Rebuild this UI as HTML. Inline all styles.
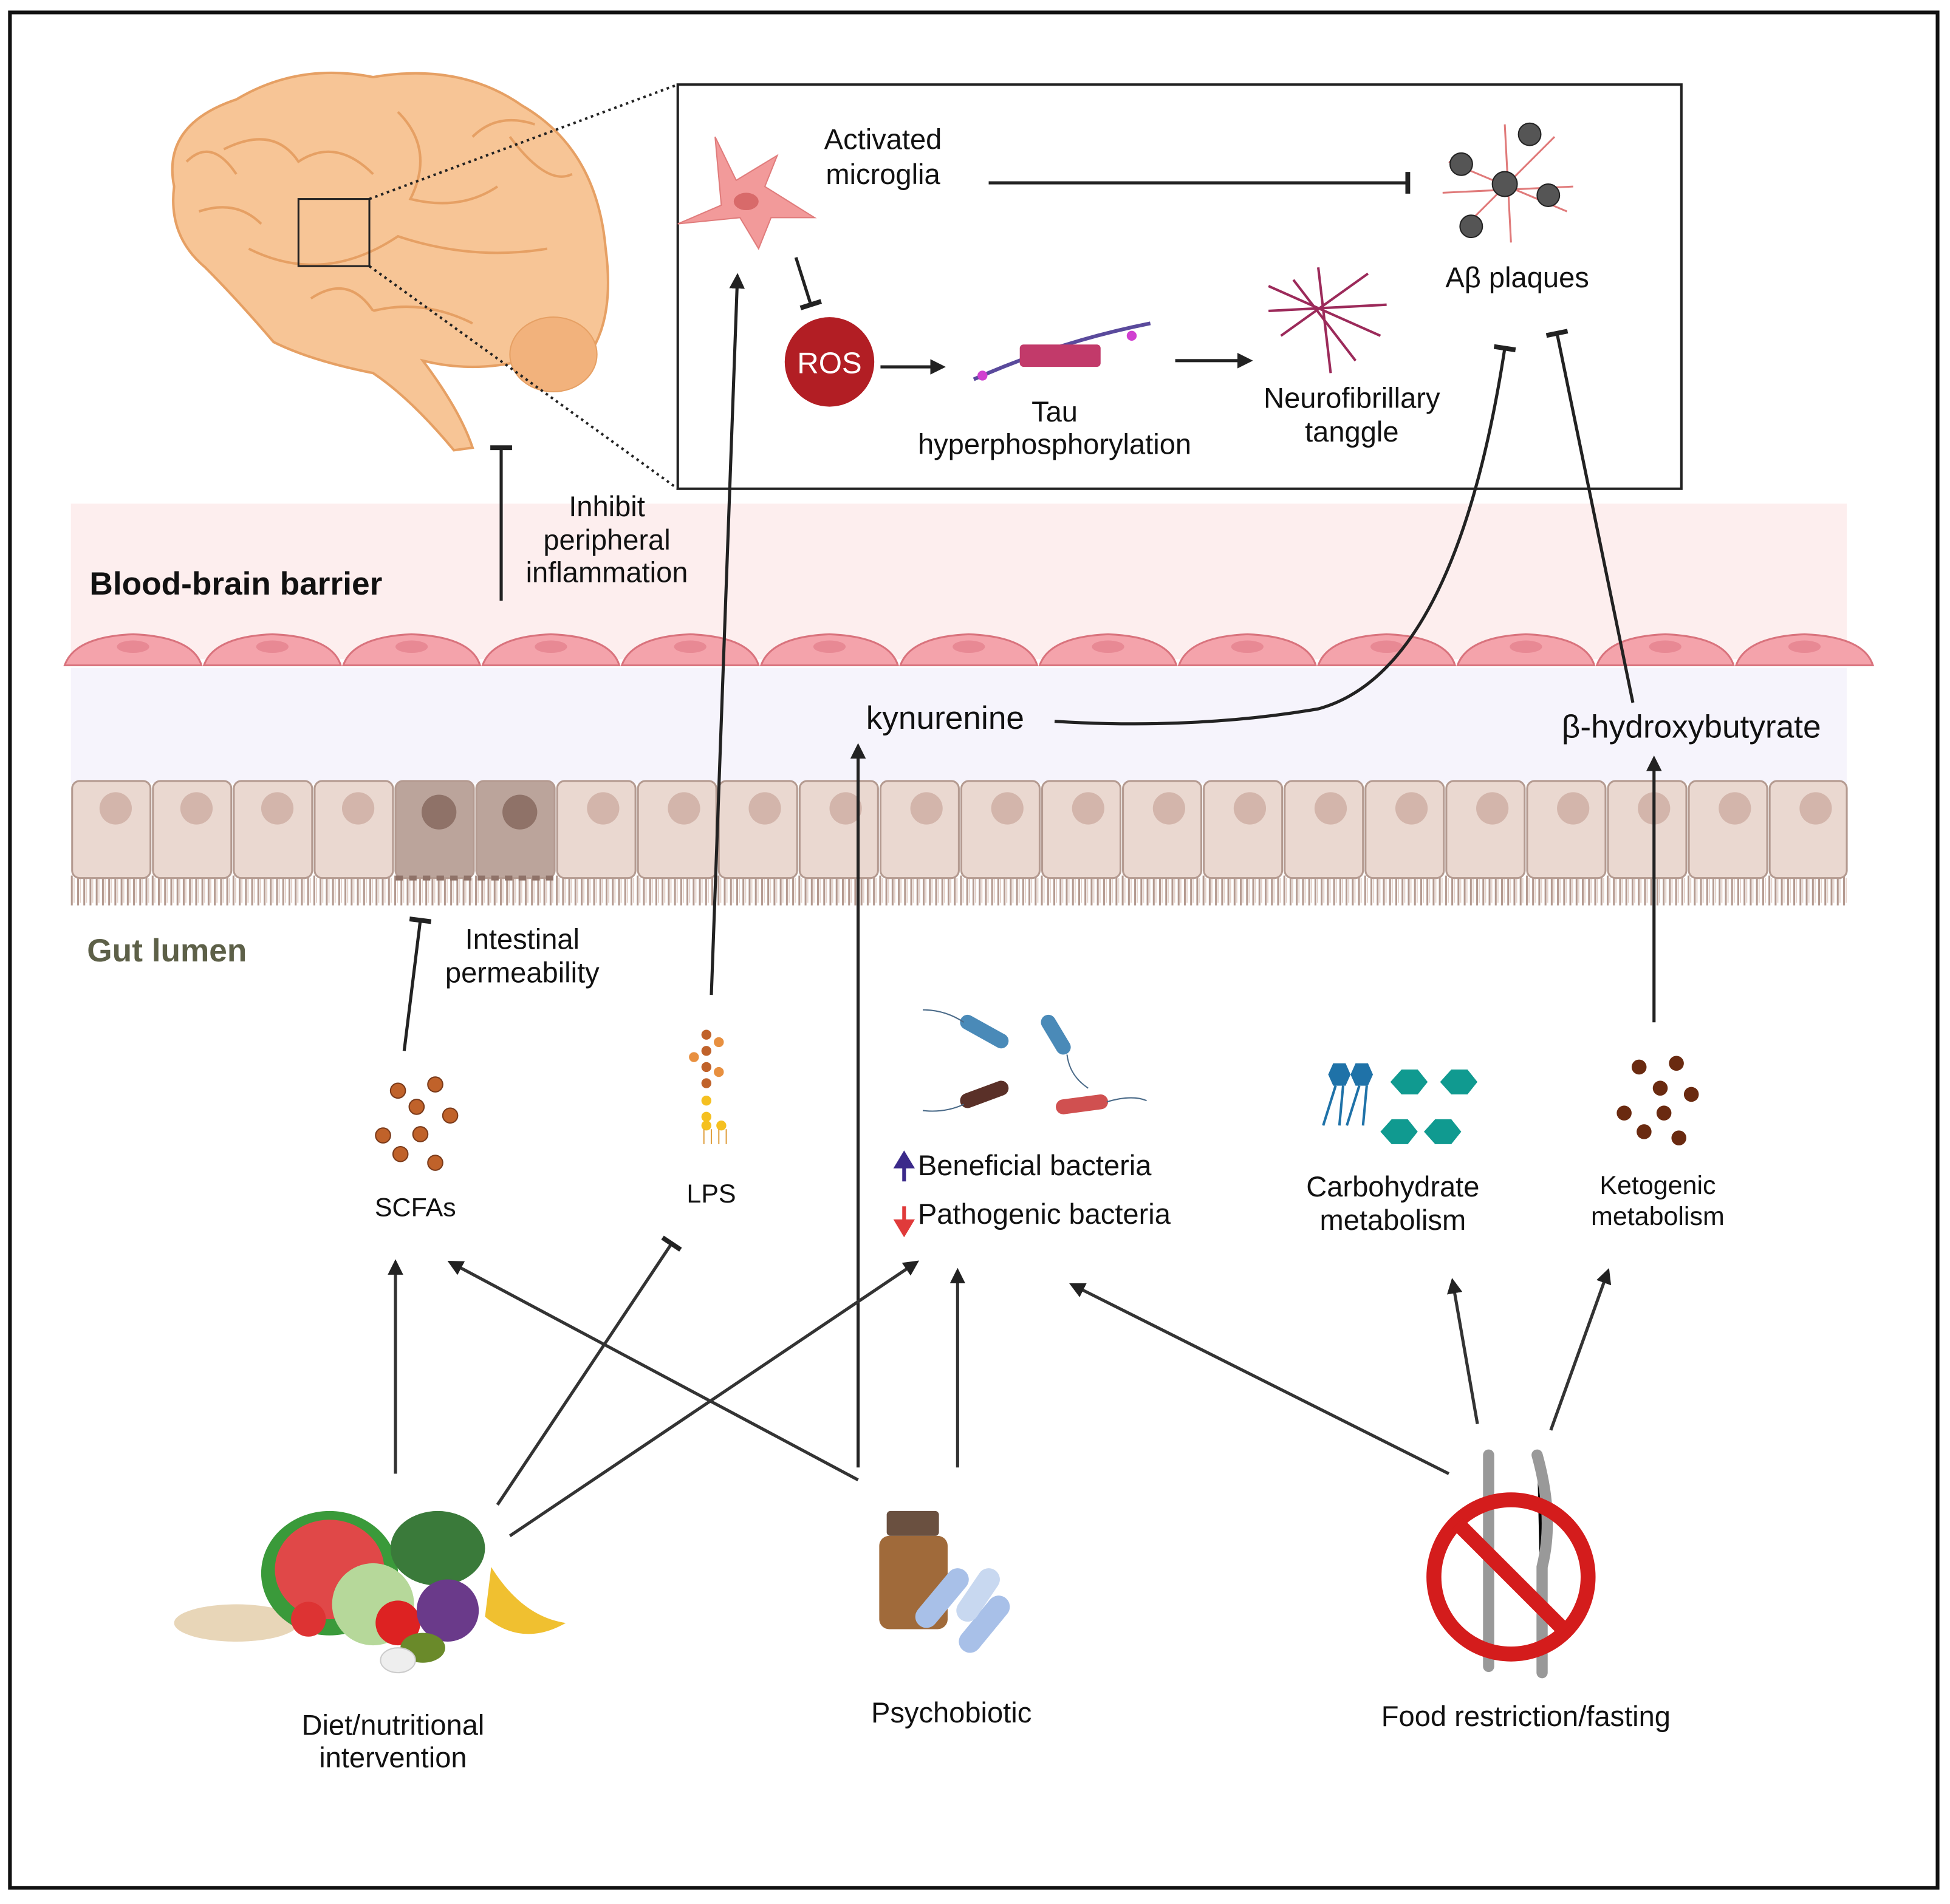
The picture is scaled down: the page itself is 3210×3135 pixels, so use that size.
<!DOCTYPE html>
<html><head><meta charset="utf-8"><style>
html,body{margin:0;padding:0;background:#fff}
svg{display:block}
text{font-family:"Liberation Sans",sans-serif;fill:#111}
</style></head><body>
<svg width="3210" height="3135" viewBox="0 0 1568 1531" preserveAspectRatio="none" xmlns="http://www.w3.org/2000/svg">
<defs>
<marker id="ar" viewBox="0 0 10 10" refX="8" refY="5" markerWidth="5" markerHeight="5" orient="auto"><path d="M0,0 L10,5 L0,10 z" fill="#222"/></marker>
<marker id="tb" viewBox="0 0 10 10" refX="5" refY="5" markerWidth="7" markerHeight="7" orient="auto"><path d="M5,0 L5,10" stroke="#222" stroke-width="2.2"/></marker>
</defs>
<rect x="8" y="10" width="1550" height="1508" fill="#fff" stroke="#111" stroke-width="3"/>
<rect x="57" y="405" width="1428" height="125" fill="#fdeeee"/>
<rect x="57" y="537" width="1428" height="93" fill="#f6f4fc"/>
<g fill="#f4a3ab" stroke="#d9737d" stroke-width="1.5">
<path d="M52,535 Q60,512 107,510 Q155,512 162,535 Z"/><path d="M164,535 Q172,512 219,510 Q267,512 274,535 Z"/><path d="M276,535 Q284,512 331,510 Q379,512 386,535 Z"/><path d="M388,535 Q396,512 443,510 Q491,512 498,535 Z"/><path d="M500,535 Q508,512 555,510 Q603,512 610,535 Z"/><path d="M612,535 Q620,512 667,510 Q715,512 722,535 Z"/><path d="M724,535 Q732,512 779,510 Q827,512 834,535 Z"/><path d="M836,535 Q844,512 891,510 Q939,512 946,535 Z"/><path d="M948,535 Q956,512 1003,510 Q1051,512 1058,535 Z"/><path d="M1060,535 Q1068,512 1115,510 Q1163,512 1170,535 Z"/><path d="M1172,535 Q1180,512 1227,510 Q1275,512 1282,535 Z"/><path d="M1284,535 Q1292,512 1339,510 Q1387,512 1394,535 Z"/><path d="M1396,535 Q1404,512 1451,510 Q1499,512 1506,535 Z"/>
</g>
<g fill="#e88994"><ellipse cx="107" cy="520" rx="13" ry="5"/><ellipse cx="219" cy="520" rx="13" ry="5"/><ellipse cx="331" cy="520" rx="13" ry="5"/><ellipse cx="443" cy="520" rx="13" ry="5"/><ellipse cx="555" cy="520" rx="13" ry="5"/><ellipse cx="667" cy="520" rx="13" ry="5"/><ellipse cx="779" cy="520" rx="13" ry="5"/><ellipse cx="891" cy="520" rx="13" ry="5"/><ellipse cx="1003" cy="520" rx="13" ry="5"/><ellipse cx="1115" cy="520" rx="13" ry="5"/><ellipse cx="1227" cy="520" rx="13" ry="5"/><ellipse cx="1339" cy="520" rx="13" ry="5"/><ellipse cx="1451" cy="520" rx="13" ry="5"/></g>
<!-- microvilli -->
<path d="M57,716 L1485,716" stroke="#b49a90" stroke-width="24" stroke-dasharray="1.5,3.5"/>
<path d="M57,716 L1485,716" stroke="#e6d4cc" stroke-width="20" stroke-dasharray="1,4" stroke-dashoffset="-2"/>
<g stroke="#b49a90" stroke-width="1.5">
<g fill="#ead8d0">
<rect x="58" y="628" width="63" height="78" rx="6"/><rect x="123" y="628" width="63" height="78" rx="6"/><rect x="188" y="628" width="63" height="78" rx="6"/><rect x="253" y="628" width="63" height="78" rx="6"/>
<rect x="318" y="628" width="63" height="78" rx="6" fill="#bba49b"/><rect x="383" y="628" width="63" height="78" rx="6" fill="#bba49b"/>
<rect x="448" y="628" width="63" height="78" rx="6"/><rect x="513" y="628" width="63" height="78" rx="6"/><rect x="578" y="628" width="63" height="78" rx="6"/><rect x="643" y="628" width="63" height="78" rx="6"/><rect x="708" y="628" width="63" height="78" rx="6"/><rect x="773" y="628" width="63" height="78" rx="6"/><rect x="838" y="628" width="63" height="78" rx="6"/><rect x="903" y="628" width="63" height="78" rx="6"/><rect x="968" y="628" width="63" height="78" rx="6"/><rect x="1033" y="628" width="63" height="78" rx="6"/><rect x="1098" y="628" width="63" height="78" rx="6"/><rect x="1163" y="628" width="63" height="78" rx="6"/><rect x="1228" y="628" width="63" height="78" rx="6"/><rect x="1293" y="628" width="63" height="78" rx="6"/><rect x="1358" y="628" width="63" height="78" rx="6"/><rect x="1423" y="628" width="62" height="78" rx="6"/>
</g>
</g>
<g fill="#d3b5ab">
<circle cx="93" cy="650" r="13"/><circle cx="158" cy="650" r="13"/><circle cx="223" cy="650" r="13"/><circle cx="288" cy="650" r="13"/><circle cx="353" cy="653" r="14" fill="#8f7268"/><circle cx="418" cy="653" r="14" fill="#8f7268"/><circle cx="485" cy="650" r="13"/><circle cx="550" cy="650" r="13"/><circle cx="615" cy="650" r="13"/><circle cx="680" cy="650" r="13"/><circle cx="745" cy="650" r="13"/><circle cx="810" cy="650" r="13"/><circle cx="875" cy="650" r="13"/><circle cx="940" cy="650" r="13"/><circle cx="1005" cy="650" r="13"/><circle cx="1070" cy="650" r="13"/><circle cx="1135" cy="650" r="13"/><circle cx="1200" cy="650" r="13"/><circle cx="1265" cy="650" r="13"/><circle cx="1330" cy="650" r="13"/><circle cx="1395" cy="650" r="13"/><circle cx="1460" cy="650" r="13"/>
</g>
<path d="M318,706 L446,706" stroke="#8f7268" stroke-width="4" stroke-dasharray="6,5"/>
<!-- brain -->
<path d="M140,150 Q130,100 190,80 Q240,50 300,62 Q370,50 420,85 Q480,120 487,200 Q495,260 470,290 Q440,300 420,290 Q380,300 340,290 Q370,330 380,360 L365,362 Q330,320 300,300 Q250,290 220,275 Q190,240 165,215 Q135,190 140,150 Z" fill="#f7c596" stroke="#e6a064" stroke-width="2"/>
<ellipse cx="445" cy="285" rx="35" ry="30" fill="#f2b27c" stroke="#e6a064"/>
<g fill="none" stroke="#e6a064" stroke-width="2"><path d="M180,120 Q220,100 240,130 Q270,110 300,140"/><path d="M320,90 Q350,120 330,160 Q370,170 400,150"/><path d="M200,200 Q260,230 320,190 Q380,210 440,200"/><path d="M300,250 Q340,240 380,260"/><path d="M410,110 Q440,150 460,140"/><path d="M160,170 Q190,160 210,180"/><path d="M150,130 Q170,110 190,140"/><path d="M250,240 Q280,220 300,250"/><path d="M380,110 Q400,90 430,100"/></g>
<rect x="240" y="160" width="57" height="54" fill="none" stroke="#222" stroke-width="1.5"/>
<path d="M297,160 L545,68 M297,214 L545,393" stroke="#222" stroke-width="2" stroke-dasharray="2,3"/>
<rect x="545" y="68" width="807" height="325" fill="#fff" stroke="#222" stroke-width="2"/>
<path d="M545,180 L580,165 L575,110 L592,145 L625,125 L615,150 L655,175 L620,175 L610,200 L595,175 Z" fill="#f29a9a" stroke="#e07c7c"/>
<ellipse cx="600" cy="162" rx="10" ry="7" fill="#d86a6a"/>
<text x="710" y="120" font-size="23" text-anchor="middle">Activated</text>
<text x="710" y="148" font-size="23" text-anchor="middle">microglia</text>
<line x1="795" y1="147" x2="1132" y2="147" stroke="#222" stroke-width="2.5" marker-end="url(#tb)"/>
<line x1="640" y1="207" x2="652" y2="245" stroke="#222" stroke-width="2.5" marker-end="url(#tb)"/>
<circle cx="667" cy="291" r="36" fill="#b21e24"/>
<text x="667" y="300" font-size="24" text-anchor="middle" style="fill:#fff">ROS</text>
<line x1="708" y1="295" x2="758" y2="295" stroke="#222" stroke-width="2.5" marker-end="url(#ar)"/>
<path d="M783,305 Q850,275 925,260" stroke="#5a4a9c" stroke-width="3" fill="none"/>
<rect x="820" y="277" width="65" height="18" fill="#c23a6a" rx="3"/>
<circle cx="790" cy="302" r="4" fill="#d040d0"/><circle cx="910" cy="270" r="4" fill="#d040d0"/>
<text x="848" y="339" font-size="23" text-anchor="middle">Tau</text>
<text x="848" y="365" font-size="23" text-anchor="middle">hyperphosphorylation</text>
<line x1="945" y1="290" x2="1005" y2="290" stroke="#222" stroke-width="2.5" marker-end="url(#ar)"/>
<g stroke="#9c2a5a" stroke-width="2" fill="none"><path d="M1020,230 L1110,270 M1030,270 L1100,220 M1060,215 L1070,300 M1020,250 L1115,245 M1040,225 L1090,290"/></g>
<text x="1087" y="328" font-size="23" text-anchor="middle">Neurofibrillary</text>
<text x="1087" y="355" font-size="23" text-anchor="middle">tanggle</text>
<g stroke="#e07a7a" stroke-width="1.5" fill="none"><path d="M1165,130 L1260,170 M1180,180 L1250,110 M1210,100 L1215,195 M1160,155 L1265,150"/></g>
<g fill="#555" stroke="#222"><circle cx="1175" cy="132" r="9"/><circle cx="1230" cy="108" r="9"/><circle cx="1210" cy="148" r="10"/><circle cx="1245" cy="157" r="9"/><circle cx="1183" cy="182" r="9"/></g>
<text x="1220" y="231" font-size="23" text-anchor="middle">Aβ plaques</text>
<text x="72" y="478" font-size="26" font-weight="bold">Blood-brain barrier</text>
<line x1="403" y1="483" x2="403" y2="360" stroke="#222" stroke-width="2.5" marker-end="url(#tb)"/>
<text x="488" y="415" font-size="23" text-anchor="middle">Inhibit</text>
<text x="488" y="442" font-size="23" text-anchor="middle">peripheral</text>
<text x="488" y="468" font-size="23" text-anchor="middle">inflammation</text>
<text x="760" y="586" font-size="26" text-anchor="middle">kynurenine</text>
<path d="M848,580 Q960,587 1060,570 Q1170,540 1210,280" stroke="#222" stroke-width="2.5" fill="none" marker-end="url(#tb)"/>
<text x="1360" y="593" font-size="26" text-anchor="middle">β-hydroxybutyrate</text>
<line x1="1313" y1="565" x2="1252" y2="268" stroke="#222" stroke-width="2.5" marker-end="url(#tb)"/>
<text x="70" y="773" font-size="26" font-weight="bold" style="fill:#5d6048">Gut lumen</text>
<line x1="572" y1="800" x2="593" y2="222" stroke="#222" stroke-width="2.5" marker-end="url(#ar)"/>
<line x1="690" y1="1180" x2="690" y2="600" stroke="#222" stroke-width="2.5" marker-end="url(#ar)"/>
<line x1="1330" y1="822" x2="1330" y2="610" stroke="#222" stroke-width="2.5" marker-end="url(#ar)"/>
<line x1="325" y1="845" x2="338" y2="740" stroke="#222" stroke-width="2.5" marker-end="url(#tb)"/>
<text x="420" y="763" font-size="23" text-anchor="middle">Intestinal</text>
<text x="420" y="790" font-size="23" text-anchor="middle">permeability</text>
<g fill="#c0622a" stroke="#7a3a1a"><circle cx="320" cy="877" r="6"/><circle cx="350" cy="872" r="6"/><circle cx="335" cy="890" r="6"/><circle cx="362" cy="897" r="6"/><circle cx="308" cy="913" r="6"/><circle cx="338" cy="912" r="6"/><circle cx="322" cy="928" r="6"/><circle cx="350" cy="935" r="6"/></g>
<text x="334" y="978" font-size="21" text-anchor="middle">SCFAs</text>
<g fill="#c0622a"><circle cx="568" cy="832" r="4"/><circle cx="568" cy="845" r="4"/><circle cx="568" cy="858" r="4"/><circle cx="568" cy="871" r="4"/><circle cx="578" cy="838" r="4" fill="#e89040"/><circle cx="558" cy="850" r="4" fill="#e89040"/><circle cx="578" cy="862" r="4" fill="#e89040"/></g>
<g fill="#f5c020"><circle cx="568" cy="885" r="4"/><circle cx="568" cy="898" r="4"/><circle cx="568" cy="905" r="4"/><circle cx="580" cy="905" r="4"/></g>
<path d="M566,908 l0,12 M572,908 l0,12 M578,908 l0,12 M584,908 l0,12" stroke="#e0a040"/>
<text x="572" y="967" font-size="21" text-anchor="middle">LPS</text>
<g stroke-linecap="round"><line x1="778" y1="822" x2="805" y2="837" stroke="#4a8ab8" stroke-width="12"/><line x1="843" y1="822" x2="855" y2="842" stroke="#4a8ab8" stroke-width="12"/><line x1="778" y1="885" x2="805" y2="875" stroke="#5a3028" stroke-width="12"/><line x1="855" y1="890" x2="885" y2="886" stroke="#d05050" stroke-width="12"/></g>
<path d="M742,812 Q760,812 775,822 M858,848 Q860,865 875,875 M775,888 Q760,895 742,893 M890,886 Q910,880 922,885" stroke="#4a6a88" fill="none"/>
<path d="M727,950 L727,932 M721,938 L727,928 L733,938 Z" stroke="#3b2a8a" stroke-width="3" fill="#3b2a8a"/>
<text x="738" y="945" font-size="23">Beneficial bacteria</text>
<path d="M727,970 L727,988 M721,982 L727,992 L733,982 Z" stroke="#e03a3a" stroke-width="3" fill="#e03a3a"/>
<text x="738" y="984" font-size="23">Pathogenic bacteria</text>
<g fill="#1f72a8"><polygon points="1072,855 1082,855 1086,864 1082,873 1072,873 1068,864"/><polygon points="1090,855 1100,855 1104,864 1100,873 1090,873 1086,864"/></g>
<path d="M1074,873 L1064,905 M1080,873 L1077,905 M1093,873 L1083,905 M1099,873 L1096,905" stroke="#1f72a8" stroke-width="2"/>
<g fill="#109a90"><polygon points="1118,870 1127,860 1140,860 1148,870 1140,880 1127,880"/><polygon points="1158,870 1167,860 1180,860 1188,870 1180,880 1167,880"/><polygon points="1110,910 1119,900 1132,900 1140,910 1132,920 1119,920"/><polygon points="1145,910 1154,900 1167,900 1175,910 1167,920 1154,920"/></g>
<text x="1120" y="962" font-size="23" text-anchor="middle">Carbohydrate</text>
<text x="1120" y="989" font-size="23" text-anchor="middle">metabolism</text>
<g fill="#6a2a10"><circle cx="1318" cy="858" r="6"/><circle cx="1348" cy="855" r="6"/><circle cx="1335" cy="875" r="6"/><circle cx="1360" cy="880" r="6"/><circle cx="1306" cy="895" r="6"/><circle cx="1338" cy="895" r="6"/><circle cx="1322" cy="910" r="6"/><circle cx="1350" cy="915" r="6"/></g>
<text x="1333" y="960" font-size="21" text-anchor="middle">Ketogenic</text>
<text x="1333" y="985" font-size="21" text-anchor="middle">metabolism</text>
<g stroke-width="2.5" fill="none" stroke="#333">
<line x1="318" y1="1185" x2="318" y2="1015" marker-end="url(#ar)"/>
<line x1="690" y1="1190" x2="362" y2="1015" marker-end="url(#ar)"/>
<line x1="400" y1="1210" x2="540" y2="1000" marker-end="url(#tb)"/>
<line x1="410" y1="1235" x2="737" y2="1015" marker-end="url(#ar)"/>
<line x1="770" y1="1180" x2="770" y2="1022" marker-end="url(#ar)"/>
<line x1="1165" y1="1185" x2="862" y2="1033" marker-end="url(#ar)"/>
<line x1="1188" y1="1145" x2="1168" y2="1030" marker-end="url(#ar)"/>
<line x1="1247" y1="1150" x2="1293" y2="1022" marker-end="url(#ar)"/>
</g>
<ellipse cx="190" cy="1305" rx="50" ry="15" fill="#e8d6b8"/>
<ellipse cx="265" cy="1265" rx="55" ry="50" fill="#3a9a3a"/>
<ellipse cx="265" cy="1262" rx="44" ry="40" fill="#e04848"/>
<ellipse cx="352" cy="1245" rx="38" ry="30" fill="#3a7a3a"/>
<circle cx="300" cy="1290" r="33" fill="#b6d89a"/>
<circle cx="320" cy="1305" r="18" fill="#d22"/>
<circle cx="248" cy="1302" r="14" fill="#d33"/>
<circle cx="360" cy="1295" r="25" fill="#6a3a8a"/>
<path d="M395,1260 Q420,1300 455,1305 Q420,1325 390,1300 Z" fill="#f0c030"/>
<ellipse cx="340" cy="1325" rx="18" ry="12" fill="#6a8a2a"/>
<ellipse cx="320" cy="1335" rx="14" ry="10" fill="#eee" stroke="#ccc"/>
<text x="316" y="1395" font-size="23" text-anchor="middle">Diet/nutritional</text>
<text x="316" y="1421" font-size="23" text-anchor="middle">intervention</text>
<rect x="713" y="1215" width="42" height="20" rx="3" fill="#6a5040"/>
<rect x="707" y="1235" width="55" height="75" rx="8" fill="#a06a3a"/>
<g stroke-linecap="round" stroke-width="18"><line x1="745" y1="1300" x2="770" y2="1270" stroke="#a8c0e8"/><line x1="780" y1="1320" x2="803" y2="1292" stroke="#a8c0e8"/><line x1="778" y1="1295" x2="795" y2="1270" stroke="#c8d8f0"/></g>
<text x="765" y="1385" font-size="23" text-anchor="middle">Psychobiotic</text>
<path d="M1197,1170 L1197,1340 M1236,1170 Q1250,1220 1240,1260 L1240,1345" stroke="#999" stroke-width="9" stroke-linecap="round"/>
<circle cx="1215" cy="1268" r="62" fill="none" stroke="#d41c1c" stroke-width="12"/>
<line x1="1172" y1="1225" x2="1258" y2="1311" stroke="#d41c1c" stroke-width="12"/>
<text x="1227" y="1388" font-size="23" text-anchor="middle">Food restriction/fasting</text>
</svg>
</body></html>
